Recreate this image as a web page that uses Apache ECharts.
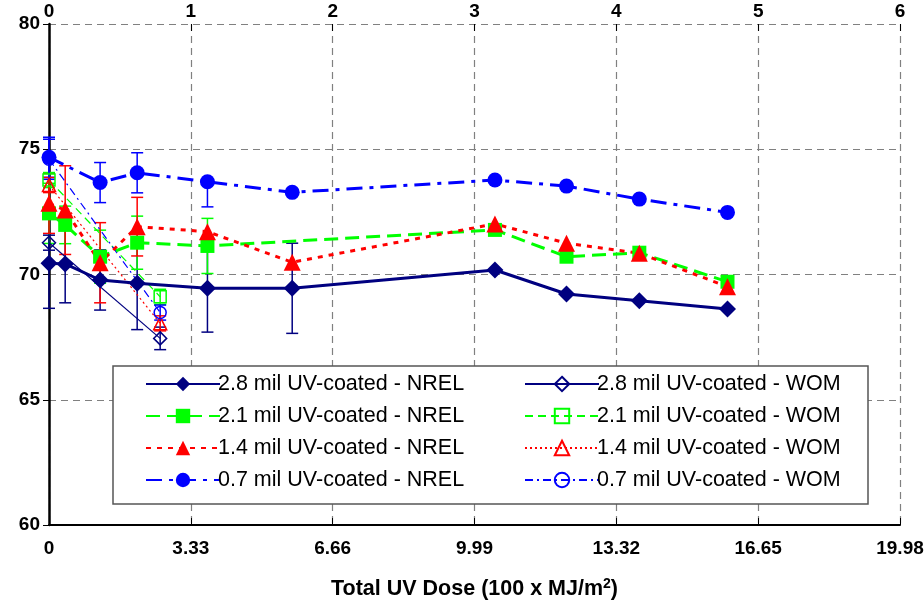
<!DOCTYPE html>
<html><head><meta charset="utf-8">
<script src="https://cdn.jsdelivr.net/npm/echarts@6/dist/echarts.min.js"></script>
<style>html,body{margin:0;padding:0;background:#fff}#c{width:924px;height:601px}</style>
</head><body><div id="c"></div>
<script>
// ---- data ----
const yTicks = [60, 65, 70, 75, 80];
const bottomTickLabels = ['0', '3.33', '6.66', '9.99', '13.32', '16.65', '19.98'];
const topTickLabels = ['0', '1', '2', '3', '4', '5', '6'];

const dose28N = [0, 0.38, 1.2, 2.07, 3.72, 5.71, 10.47, 12.15, 13.86, 15.93];
const val28N  = [70.45, 70.42, 69.78, 69.65, 69.45, 69.45, 70.18, 69.22, 68.95, 68.62];
const err28N  = [[1.8,1.8],[1.55,1.55],[1.2,1.2],[1.85,1.85],[1.75,1.75],[1.8,1.8],null,null,null,null];

const dose21N = [0, 0.38, 1.2, 2.07, 3.72, 10.47, 12.15, 13.86, 15.93];
const val21N  = [72.44, 71.98, 70.71, 71.27, 71.14, 71.78, 70.71, 70.87, 69.71];
const err21N  = [[1.2,1.2],[0.75,0.75],[1.06,1.06],[1.06,1.06],[1.1,1.1],null,null,null,null];

const dose14N = [0, 0.38, 1.2, 2.07, 3.72, 5.71, 10.47, 12.15, 13.86, 15.93];
const val14N  = [72.84, 72.57, 70.47, 71.91, 71.71, 70.49, 72.02, 71.25, 70.85, 69.51];
const err14N  = [[1.2,1.2],[1.77,1.77],[1.6,1.6],[1.17,1.17],null,null,null,null,null,null];

const dose07N = [0, 1.2, 2.07, 3.72, 5.71, 10.47, 12.15, 13.86, 15.93];
const val07N  = [74.68, 73.67, 74.06, 73.70, 73.28, 73.77, 73.53, 73.01, 72.48];
const err07N  = [[0.8,0.8],[0.8,0.8],[0.8,0.8],[1.0,0],null,null,null,null,null];

const doseWOM = [0, 2.61];
const val28W = [71.27, 67.45];
const val21W = [73.77, 69.11];
const val14W = [73.57, 68.05];
const val07W = [74.60, 68.48];
const err28W = [[0.3,0.3],[0.45,0.45]];
const err21W = [[0.3,0.3],[0.3,0.3]];
const err14W = [[0.3,0.3],[0.3,0.3]];
const err07W = [[0.8,0.8],[0.3,0.3]];

const names = ['2.8 mil UV-coated - NREL','2.1 mil UV-coated - NREL','1.4 mil UV-coated - NREL','0.7 mil UV-coated - NREL',
               '2.8 mil UV-coated - WOM','2.1 mil UV-coated - WOM','1.4 mil UV-coated - WOM','0.7 mil UV-coated - WOM'];

// ---- build ----
const NAVY='#000080', GREEN='#00FF00', RED='#FF0000', BLUE='#0000FF';
function pts(xs, ys){ return xs.map((x,i)=>[x, ys[i]]); }
function errData(xs, ys, es){
  const out=[];
  xs.forEach((x,i)=>{ const e=es[i]; if(e) out.push([x, ys[i]-e[0], ys[i]+e[1]]); });
  return out;
}
function errSeries(xs, ys, es, color){
  return {
    type:'custom', xAxisIndex:0, yAxisIndex:0, z:1, silent:true,
    data: errData(xs, ys, es), encode:{x:0, y:[1,2]},
    renderItem(params, api){
      const x=api.value(0), lo=api.value(1), hi=api.value(2);
      const a=api.coord([x,lo]), b=api.coord([x,hi]);
      const w=6, st={stroke:color, lineWidth:1.5};
      return {type:'group', children:[
        {type:'line', shape:{x1:a[0],y1:a[1],x2:b[0],y2:b[1]}, style:st},
        {type:'line', shape:{x1:a[0]-w,y1:a[1],x2:a[0]+w,y2:a[1]}, style:st},
        {type:'line', shape:{x1:b[0]-w,y1:b[1],x2:b[0]+w,y2:b[1]}, style:st}
      ]};
    }
  };
}
function lineSeries(name, xs, ys, color, dash, width, symbol, size, empty){
  return {
    name, type:'line', xAxisIndex:0, yAxisIndex:0, z: empty?3:4,
    data: pts(xs, ys), symbol, symbolSize:size, showAllSymbol:true,
    lineStyle:{color, width, type:dash},
    itemStyle: empty ? {color:'rgba(0,0,0,0)', borderColor:color, borderWidth:1.5} : {color, borderColor:color, borderWidth:0},
    emphasis:{disabled:true}, animation:false
  };
}
const series = [
  errSeries(dose28N, val28N, err28N, NAVY),
  errSeries(dose21N, val21N, err21N, GREEN),
  errSeries(dose14N, val14N, err14N, RED),
  errSeries(dose07N, val07N, err07N, BLUE),
  errSeries(doseWOM, val28W, err28W, NAVY),
  errSeries(doseWOM, val21W, err21W, GREEN),
  errSeries(doseWOM, val14W, err14W, RED),
  errSeries(doseWOM, val07W, err07W, BLUE),
  lineSeries(names[0], dose28N, val28N, NAVY, 'solid', 3, 'diamond', 17, false),
  lineSeries(names[1], dose21N, val21N, GREEN, [14,7], 3, 'rect', 14, false),
  lineSeries(names[2], dose14N, val14N, RED, [5,6], 3, 'triangle', 17, false),
  lineSeries(names[3], dose07N, val07N, BLUE, [16,7,4,7], 3, 'circle', 15, false),
  lineSeries(names[4], doseWOM, val28W, NAVY, 'solid', 1.2, 'diamond', 13, true),
  lineSeries(names[5], doseWOM, val21W, GREEN, [8,5], 1.2, 'rect', 12, true),
  lineSeries(names[6], doseWOM, val14W, RED, [2,3], 1.2, 'triangle', 13, true),
  lineSeries(names[7], doseWOM, val07W, BLUE, [8,4,2,4], 1.2, 'circle', 12, true)
];

const FONT = '"Liberation Sans", Arial, sans-serif';
const chart = echarts.init(document.getElementById('c'), null, {renderer:'canvas'});
chart.setOption({
  animation:false,
  backgroundColor:'#fff',
  grid:{left:49, right:24, top:24, bottom:76, containLabel:false, outerBoundsMode:'none'},
  xAxis:[
    { type:'value', position:'bottom', min:0, max:19.98, interval:3.33,
      axisLine:{show:true, onZero:false, lineStyle:{color:'#000', width:2}},
      axisTick:{show:true, inside:true, length:7, lineStyle:{color:'#000', width:1}},
      axisLabel:{show:true, margin:14, fontFamily:FONT, fontWeight:'bold', fontSize:19, color:'#000',
        showMaxLabel:true, showMinLabel:true, hideOverlap:false,
        formatter:(v)=>{ const i=Math.round(v/3.33); return bottomTickLabels[i]!==undefined?bottomTickLabels[i]:''; }},
      splitLine:{show:false},
      name:'{a|Total UV Dose (100 x MJ/m}{s|2}{a|)}', nameLocation:'middle', nameGap:52,
      nameTextStyle:{rich:{
        a:{fontFamily:FONT, fontWeight:'bold', fontSize:21.5, color:'#000'},
        s:{fontFamily:FONT, fontWeight:'bold', fontSize:14, color:'#000', verticalAlign:'top', padding:[0,0,11,0]}
      }}
    },
    { type:'value', position:'top', min:0, max:6, interval:1,
      axisLine:{show:false},
      axisTick:{show:true, inside:true, length:7, lineStyle:{color:'#000', width:1}},
      axisLabel:{show:true, margin:3, fontFamily:FONT, fontWeight:'bold', fontSize:19, color:'#000',
        formatter:(v)=>topTickLabels[Math.round(v)]},
      splitLine:{show:true, lineStyle:{color:'#808080', type:[7,5], width:1.2}}
    }
  ],
  yAxis:[{ type:'value', min:60, max:80, interval:5,
    axisLine:{show:true, onZero:false, lineStyle:{color:'#000', width:2.5}},
    axisTick:{show:true, inside:false, length:6, lineStyle:{color:'#000', width:1}},
    axisLabel:{margin:9, fontFamily:FONT, fontWeight:'bold', fontSize:19, color:'#000',
      formatter:(v)=>String(yTicks[Math.round((v-60)/5)])},
    splitLine:{show:true, lineStyle:{color:'#808080', type:[7,5], width:1.2}}
  }],
  graphic:[{ type:'rect', z:1, shape:{x:113, y:366, width:755, height:138},
    style:{fill:'#fff', stroke:'#555', lineWidth:1.5} }],
  legend:[
    { data:names.slice(0,4), orient:'vertical', left:140, top:368, itemWidth:74, itemHeight:18, itemGap:10,
      textStyle:{fontFamily:FONT, fontSize:21.5, color:'#000', padding:[0,0,0,-7]}, selectedMode:false, z:10 },
    { data:names.slice(4), orient:'vertical', left:519, top:368, itemWidth:74, itemHeight:18, itemGap:10,
      textStyle:{fontFamily:FONT, fontSize:21.5, color:'#000', padding:[0,0,0,-7]}, selectedMode:false, z:10 }
  ],
  series
});
</script></body></html>
